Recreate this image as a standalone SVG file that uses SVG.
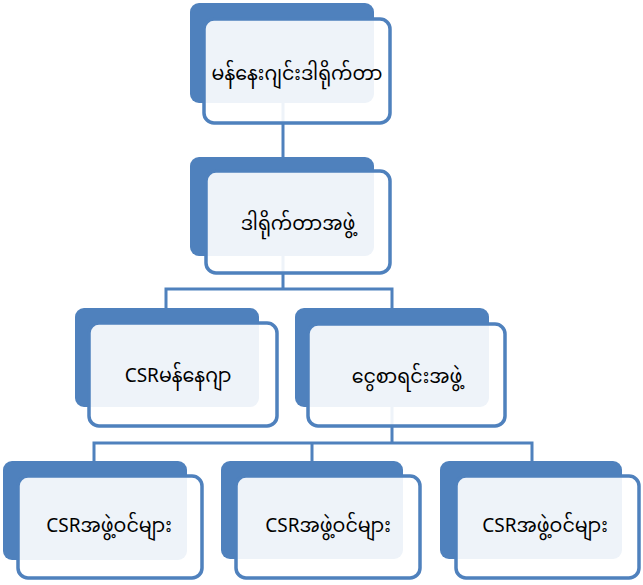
<svg xmlns="http://www.w3.org/2000/svg" width="643" height="585" viewBox="0 0 643 585">
<style>
.back{fill:#4F81BD;}
.front{fill:#FFFFFF;fill-opacity:0.9;stroke:#4F81BD;stroke-width:3.5;}
.conn{fill:none;stroke:#4F81BD;stroke-width:3;}
.lbl{font-family:"Noto Sans Myanmar","Padauk","Myanmar Text","Noto Sans",sans-serif;font-size:19px;fill:#000000;text-anchor:middle;dominant-baseline:central;}
</style>
<rect width="643" height="585" fill="#FFFFFF"/>
<g id="connectors">
<path class="conn" d="M283,103 V157"/>
<path class="conn" d="M283,256 V289 M166,308 V289 H392 V308"/>
<path class="conn" d="M392,407 V443 M94,461 V443 H532 V461 M312,443 V461"/>
</g>
<g id="node-md">
<rect class="back" x="190" y="3" width="184" height="100" rx="9"/>
<rect class="front" x="204" y="19" width="186" height="104" rx="10"/>
<text class="lbl" x="297" y="75">မန်နေးဂျင်းဒါရိုက်တာ</text>
</g>
<g id="node-directors">
<rect class="back" x="190" y="157" width="184" height="99" rx="9"/>
<rect class="front" x="206" y="171" width="184" height="102" rx="10"/>
<text class="lbl" x="298" y="225">ဒါရိုက်တာအဖွဲ့</text>
</g>
<g id="node-csr-manager">
<rect class="back" x="75" y="308" width="184" height="99" rx="9"/>
<rect class="front" x="89" y="323" width="188" height="103" rx="10"/>
<text class="lbl" x="178" y="377">CSRမန်နေဂျာ</text>
</g>
<g id="node-finance">
<rect class="back" x="295" y="308" width="194" height="99" rx="9"/>
<rect class="front" x="308" y="324" width="197" height="102" rx="10"/>
<text class="lbl" x="407" y="378">ငွေစာရင်းအဖွဲ့</text>
</g>
<g id="node-member-1">
<rect class="back" x="3" y="461" width="184" height="99" rx="9"/>
<rect class="front" x="18" y="476" width="184" height="102" rx="10"/>
<text class="lbl" x="109" y="527">CSRအဖွဲ့ဝင်များ</text>
</g>
<g id="node-member-2">
<rect class="back" x="221" y="461" width="182" height="98" rx="9"/>
<rect class="front" x="236" y="476" width="184" height="102" rx="10"/>
<text class="lbl" x="328" y="527">CSRအဖွဲ့ဝင်များ</text>
</g>
<g id="node-member-3">
<rect class="back" x="440" y="461" width="182" height="98" rx="9"/>
<rect class="front" x="456" y="476" width="183" height="102" rx="10"/>
<text class="lbl" x="545" y="527">CSRအဖွဲ့ဝင်များ</text>
</g>
</svg>
